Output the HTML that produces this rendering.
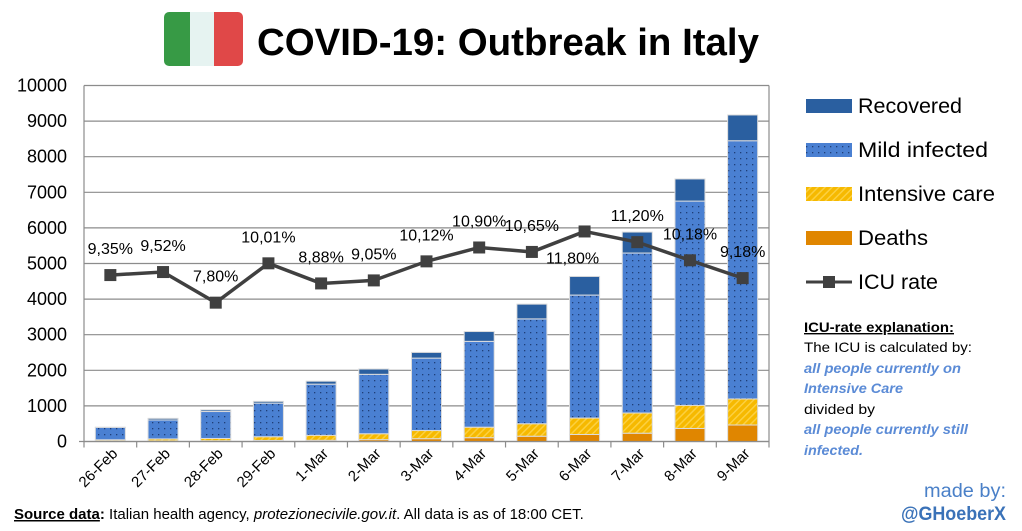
<!DOCTYPE html>
<html><head><meta charset="utf-8">
<style>
body{margin:0;background:#fff;width:1022px;height:531px;overflow:hidden;font-family:"Liberation Sans",sans-serif}
svg{display:block}
</style></head>
<body>
<svg id="chart" width="1022" height="531" viewBox="0 0 1022 531" xmlns="http://www.w3.org/2000/svg">
<defs>
<pattern id="dots" width="6" height="6" patternUnits="userSpaceOnUse">
<rect width="6" height="6" fill="#4a80d2"/><rect x="2" y="2" width="1.3" height="1.3" fill="#1f3f78"/>
</pattern>
<pattern id="hatch" width="5" height="5" patternUnits="userSpaceOnUse" patternTransform="rotate(45)">
<rect width="5" height="5" fill="#f6b900"/><rect width="1.5" height="5" fill="#fcd040"/>
</pattern>
</defs>
<g>
<rect x="164" y="12" width="27" height="54" rx="5" fill="#379a45"/>
<rect x="176" y="12" width="15" height="54" fill="#379a45"/>
<rect x="190" y="12" width="25" height="54" fill="#e6f3f1"/>
<rect x="214" y="12" width="15" height="54" fill="#e04848"/>
<rect x="216" y="12" width="27" height="54" rx="5" fill="#e04848"/>
</g>
<text x="257" y="55" font-size="38" font-weight="bold" textLength="502" lengthAdjust="spacingAndGlyphs" fill="#000">COVID-19: Outbreak in Italy</text>
<g id="grid"></g>
<g id="bars"></g>
<g id="line"></g>
<g id="axes"></g>

<g font-size="21" fill="#000">
<g><rect x="806" y="99" width="46" height="14" fill="#2a5fa0"/><text x="858" y="113" textLength="104" lengthAdjust="spacingAndGlyphs">Recovered</text></g>
<g><rect x="806" y="143" width="46" height="14" fill="url(#dots)"/><text x="858" y="157" textLength="130" lengthAdjust="spacingAndGlyphs">Mild infected</text></g>
<g><rect x="806" y="187" width="46" height="14" fill="url(#hatch)"/><text x="858" y="201" textLength="137" lengthAdjust="spacingAndGlyphs">Intensive care</text></g>
<g><rect x="806" y="231" width="46" height="14" fill="#e08600"/><text x="858" y="245" textLength="70" lengthAdjust="spacingAndGlyphs">Deaths</text></g>
<g><line x1="806" y1="282" x2="852" y2="282" stroke="#404040" stroke-width="3"/><rect x="823" y="276" width="12" height="12" fill="#404040"/><text x="858" y="289" textLength="80" lengthAdjust="spacingAndGlyphs">ICU rate</text></g>
</g>

<g font-size="14">
<text x="804" y="332" font-weight="bold" text-decoration="underline" textLength="150" lengthAdjust="spacingAndGlyphs">ICU-rate explanation:</text>
<text x="804" y="352" textLength="168" lengthAdjust="spacingAndGlyphs">The ICU is calculated by:</text>
<text x="804" y="373" font-weight="bold" font-style="italic" fill="#5b8bd6" textLength="157" lengthAdjust="spacingAndGlyphs">all people currently on</text>
<text x="804" y="393" font-weight="bold" font-style="italic" fill="#5b8bd6" textLength="99" lengthAdjust="spacingAndGlyphs">Intensive Care</text>
<text x="804" y="414" textLength="71" lengthAdjust="spacingAndGlyphs">divided by</text>
<text x="804" y="434" font-weight="bold" font-style="italic" fill="#5b8bd6" textLength="164" lengthAdjust="spacingAndGlyphs">all people currently still</text>
<text x="804" y="455" font-weight="bold" font-style="italic" fill="#5b8bd6" textLength="59" lengthAdjust="spacingAndGlyphs">infected.</text>
</g>
<text x="1006" y="497" font-size="19" fill="#4a80c8" text-anchor="end" textLength="82" lengthAdjust="spacingAndGlyphs">made by:</text>
<text x="1006" y="520" font-size="19" font-weight="bold" fill="#3a72b8" text-anchor="end" textLength="105" lengthAdjust="spacingAndGlyphs">@GHoeberX</text>
<text x="14" y="519" font-size="15" fill="#000"><tspan font-weight="bold" text-decoration="underline">Source data</tspan><tspan font-weight="bold">:</tspan> Italian health agency, <tspan font-style="italic">protezionecivile.gov.it</tspan>. All data is as of 18:00 CET.</text>
</svg>
<script>
const categories=["26-Feb","27-Feb","28-Feb","29-Feb","1-Mar","2-Mar","3-Mar","4-Mar","5-Mar","6-Mar","7-Mar","8-Mar","9-Mar"];
const totalCases=[400,650,888,1128,1694,2036,2502,3089,3858,4636,5883,7375,9172];
const deaths=[12,17,21,29,34,52,79,107,148,197,233,366,463];
const recovered=[3,45,46,50,83,149,160,276,414,523,589,622,724];
const intensiveCare=[36,56,64,105,140,166,229,295,351,462,567,650,733];
const icuRate=[9.35,9.52,7.80,10.01,8.88,9.05,10.12,10.90,10.65,11.80,11.20,10.18,9.18];
const icuLabels=["9,35%","9,52%","7,80%","10,01%","8,88%","9,05%","10,12%","10,90%","10,65%","11,80%","11,20%","10,18%","9,18%"];
const yTicks=[0,1000,2000,3000,4000,5000,6000,7000,8000,9000,10000];

const NS="http://www.w3.org/2000/svg";
const L=84,R=769,T=85.5,B=441.5;
const band=(R-L)/categories.length, bw=30;
function y(v){return B-(v/10000)*(B-T);}
function y2(p){return B-(p/20)*(B-T);}
function xc(i){return L+band*(i+0.5);}
function mk(tag,attrs,parent){const e=document.createElementNS(NS,tag);for(const k in attrs)e.setAttribute(k,attrs[k]);parent.appendChild(e);return e;}

const grid=document.getElementById('grid');
yTicks.forEach(t=>{
  const ln=mk('line',{x1:L,x2:R,y1:y(t),y2:y(t),stroke:'#8c8c8c','stroke-width':1.2},grid);
  
  
  const tx=mk('text',{x:67,y:y(t)+6,'font-size':18,'text-anchor':'end',fill:'#000'},grid);
  tx.textContent=t;
  
  
});

const bars=document.getElementById('bars');
categories.forEach((c,i)=>{
  const mild=totalCases[i]-deaths[i]-recovered[i]-intensiveCare[i];
  const segs=[[deaths[i],'#e08600','deaths'],[intensiveCare[i],'url(#hatch)','intensive-care'],[mild,'url(#dots)','mild-infected'],[recovered[i],'#2a5fa0','recovered']];
  let base=0;
  const g=mk('g',{},bars);
  
  
  segs.forEach(s=>{
    const r=mk('rect',{x:xc(i)-bw/2,y:y(base+s[0]),width:bw,height:y(base)-y(base+s[0]),fill:s[1],stroke:'#dcdcdc','stroke-width':1},g);
    
    
    base+=s[0];
  });
});

const axes=document.getElementById('axes');
mk('line',{x1:L,x2:L,y1:T,y2:B,stroke:'#8c8c8c','stroke-width':1.2},axes);
mk('line',{x1:R,x2:R,y1:T,y2:B,stroke:'#8c8c8c','stroke-width':1.2},axes);
mk('line',{x1:L-5,x2:R,y1:B,y2:B,stroke:'#8c8c8c','stroke-width':1.2},axes);
for(let i=0;i<=categories.length;i++){mk('line',{x1:L+band*i,x2:L+band*i,y1:B,y2:B+6,stroke:'#8c8c8c','stroke-width':1.2},axes);}
categories.forEach((c,i)=>{
  const t=mk('text',{x:0,y:0,'font-size':15,'text-anchor':'end',fill:'#000',transform:`translate(${xc(i)+8},${B+13}) rotate(-45)`},axes);
  t.textContent=c;
  
  
});

const lg=document.getElementById('line');
const pts=icuRate.map((p,i)=>xc(i)+','+y2(p)).join(' ');
const pl=mk('polyline',{points:pts,fill:'none',stroke:'#404040','stroke-width':3.5},lg);


icuRate.forEach((p,i)=>{
  const m=mk('rect',{x:xc(i)-6,y:y2(p)-6,width:12,height:12,fill:'#404040'},lg);
  
  
  const below=(i===9);
  const t=mk('text',{x:xc(i)-(below?12:0),y:below?y2(p)+32:y2(p)-21,'font-size':16,'text-anchor':'middle',fill:'#000'},lg);
  t.textContent=icuLabels[i];
  
  
});
</script>
</body></html>
